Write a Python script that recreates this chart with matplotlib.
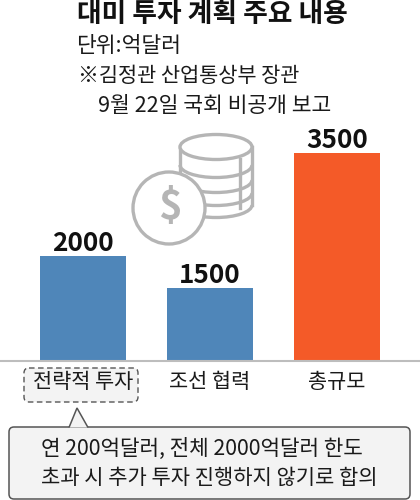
import matplotlib
matplotlib.use("Agg")
import matplotlib.pyplot as plt
from matplotlib.patches import Circle, Ellipse, Arc, FancyBboxPatch, Polygon

plt.rcParams["font.family"] = ["Noto Sans CJK KR", "DejaVu Sans"]

categories = ["전략적 투자", "조선 협력", "총규모"]
values = [2000, 1500, 3500]
# the bars in the graphic are not drawn to scale, these are the heights as drawn
drawn_heights = [1770, 1230, 3500]
bar_colors = ["#4f86b9", "#4f86b9", "#f45a28"]

title = "대미 투자 계획 주요 내용"
subtitle = ["단위:억달러", "※김정관 산업통상부 장관", "9월 22일 국회 비공개 보고"]
note = ["연 200억달러, 전체 2000억달러 한도", "초과 시 추가 투자 진행하지 않기로 합의"]

GRAY = "#b5b5b5"
INK = "#1a1a1a"

fig = plt.figure(figsize=(4.2, 5.0), dpi=100)

# overlay in pixel coordinates for text and icon
over = fig.add_axes([0, 0, 1, 1])
over.set_xlim(0, 420)
over.set_ylim(500, 0)
over.axis("off")

ax = fig.add_axes([0, (500 - 361) / 500, 1, 208 / 500])
ax.patch.set_alpha(0)
ax.bar(range(3), drawn_heights, width=86 / 127, color=bar_colors)
ax.set_xlim(-83 / 127, 337 / 127)
ax.set_ylim(0, 3500)
ax.set_yticks([])
ax.set_xticks(range(3))
ax.set_xticklabels(categories, fontsize=15, color=INK)
ax.tick_params(axis="x", length=0, pad=7)
for side in ("top", "left", "right"):
    ax.spines[side].set_visible(False)
ax.spines["bottom"].set_color("#bdbdbd")
ax.spines["bottom"].set_linewidth(1.5)

for i, v in enumerate(values):
    ax.annotate(str(v), (i, drawn_heights[i]), xytext=(0, -1), textcoords="offset points",
                ha="center", va="bottom", fontsize=18.8, fontweight="bold", color="#111111")

# header
over.text(77, 14, title, fontsize=19.3, fontweight="bold", va="center", color="#111111")
over.text(76, 46, subtitle[0], fontsize=15.5, va="center", color=INK)
over.text(78, 76, subtitle[1], fontsize=15, va="center", color=INK)
over.text(98, 106, subtitle[2], fontsize=15.5, va="center", color=INK)

# coin stack icon
lw = 2.4
over.add_patch(Polygon([(180, 147), (252, 147), (252, 205), (216, 218), (180, 205)],
                       facecolor="white", edgecolor="none", zorder=2))
over.plot([180, 180], [147, 180], color=GRAY, lw=lw, zorder=3)
over.plot([252, 252], [147, 205], color=GRAY, lw=lw, zorder=3)
over.plot([240, 240], [159, 208], color=GRAY, lw=lw, zorder=3)
for cy in [165, 180, 193, 205]:
    over.add_patch(Arc((216, cy), 72, 25, theta1=0, theta2=180, color=GRAY, lw=lw, zorder=3))
over.add_patch(Ellipse((216, 147), 72, 25, facecolor="white", edgecolor=GRAY, lw=lw, zorder=4))
over.add_patch(Circle((169, 208), 36, facecolor="white", edgecolor=GRAY, lw=lw, zorder=5))
over.text(170, 207, "$", fontsize=29, fontweight="bold", color=GRAY, ha="center", va="center", zorder=6)

# dashed box round the first category
over.add_patch(FancyBboxPatch((24, 368), 114, 34, boxstyle="round,pad=0,rounding_size=5",
                              facecolor="#f3f3f3", edgecolor="#555555", lw=1, ls=(0, (4, 2.5)), zorder=1))

# callout
over.add_patch(FancyBboxPatch((9, 427), 401, 72, boxstyle="round,pad=0,rounding_size=5",
                              facecolor="#f3f3f3", edgecolor="#555555", lw=1.1, zorder=1))
over.add_patch(Polygon([(69, 427.5), (77, 408), (88, 427.5)], closed=False, facecolor="#f3f3f3",
                       edgecolor="#555555", lw=1.1, zorder=2))
over.text(41, 449, note[0], fontsize=15.3, va="center", color=INK, zorder=3)
over.text(41, 478, note[1], fontsize=15.1, va="center", color=INK, zorder=3)

fig.savefig("out.png", dpi=100)
